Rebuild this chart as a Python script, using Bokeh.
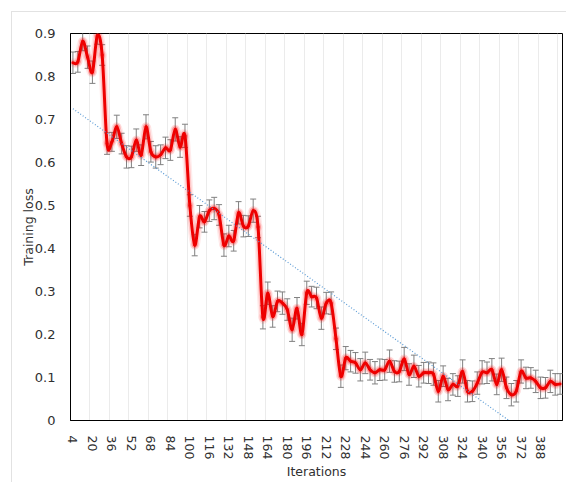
import numpy as np
from bokeh.plotting import figure
from bokeh.models import Range1d, FixedTicker, Whisker, ColumnDataSource, TeeHead
from bokeh.embed import file_html
from bokeh.resources import INLINE

# ---- data -------------------------------------------------------------
iterations = list(range(4, 408, 4))  # 4 .. 404

loss = [
    0.832, 0.834, 0.882, 0.845, 0.810, 0.895, 0.850, 0.644, 0.648, 0.683,
    0.644, 0.613, 0.613, 0.652, 0.617, 0.683, 0.625, 0.613, 0.618, 0.634,
    0.629, 0.677, 0.636, 0.662, 0.500, 0.408, 0.474, 0.462, 0.488, 0.493,
    0.478, 0.408, 0.429, 0.418, 0.483, 0.452, 0.452, 0.488, 0.450, 0.240,
    0.296, 0.242, 0.277, 0.273, 0.258, 0.211, 0.261, 0.200, 0.297, 0.288,
    0.285, 0.238, 0.273, 0.273, 0.190, 0.103, 0.145, 0.138, 0.134, 0.118,
    0.134, 0.118, 0.111, 0.118, 0.118, 0.138, 0.114, 0.114, 0.143, 0.107,
    0.126, 0.103, 0.111, 0.111, 0.108, 0.068, 0.103, 0.072, 0.084, 0.080,
    0.114, 0.068, 0.068, 0.087, 0.112, 0.111, 0.118, 0.084, 0.118, 0.076,
    0.060, 0.068, 0.114, 0.099, 0.099, 0.091, 0.076, 0.076, 0.091, 0.084,
    0.085,
]

err = [
    0.025, 0.024, 0.022, 0.026, 0.026, 0.020, 0.024, 0.025, 0.022, 0.027,
    0.024, 0.026, 0.025, 0.026, 0.024, 0.028, 0.024, 0.026, 0.023, 0.025,
    0.024, 0.027, 0.024, 0.027, 0.025, 0.025, 0.026, 0.024, 0.025, 0.026,
    0.024, 0.026, 0.025, 0.024, 0.026, 0.025, 0.024, 0.027, 0.025, 0.027,
    0.026, 0.025, 0.024, 0.026, 0.025, 0.027, 0.025, 0.026, 0.027, 0.024,
    0.025, 0.026, 0.025, 0.026, 0.025, 0.026, 0.027, 0.025, 0.024, 0.026,
    0.025, 0.024, 0.026, 0.025, 0.024, 0.026, 0.025, 0.024, 0.027, 0.025,
    0.026, 0.025, 0.024, 0.025, 0.026, 0.025, 0.024, 0.026, 0.025, 0.024,
    0.027, 0.025, 0.024, 0.026, 0.027, 0.025, 0.026, 0.024, 0.027, 0.025,
    0.026, 0.025, 0.027, 0.025, 0.024, 0.026, 0.025, 0.024, 0.026, 0.025,
    0.024,
]

trend_x = [4, 404]
trend_y = [0.725, -0.085]

x_ticks = list(range(4, 392, 16))          # 4, 20, ..., 388
y_ticks = [0, 0.1, 0.2, 0.3, 0.4, 0.5, 0.6, 0.7, 0.8, 0.9]
y_labels = ["0", "0.1", "0.2", "0.3", "0.4", "0.5", "0.6", "0.7", "0.8", "0.9"]

# ---- figure -----------------------------------------------------------
FONT = "DejaVu Sans"
p = figure(width=566, height=482, output_backend="svg", toolbar_location=None,
           x_range=Range1d(2, 406), y_range=Range1d(0, 0.9),
           min_border_left=70, min_border_right=4, min_border_top=33,
           min_border_bottom=61)

# faint outer chart border (top and left), drawn behind a transparent border area
p.border_fill_alpha = 0
p.styles = {
    "background": ("linear-gradient(#e2e2e2,#e2e2e2) 11px 11px / 1px 100% no-repeat, "
                   "linear-gradient(#e2e2e2,#e2e2e2) 11px 11px / 100% 1px no-repeat, #ffffff"),
}

p.background_fill_color = "white"
p.outline_line_color = "black"
p.outline_line_width = 1

# grid: vertical only, at category boundaries
p.ygrid.visible = False
p.xgrid.ticker = FixedTicker(ticks=[t - 2 for t in x_ticks] + [x_ticks[-1] + 14])
p.xgrid.grid_line_color = "#ebebeb"
p.xgrid.grid_line_width = 1

# axes
p.xaxis.ticker = FixedTicker(ticks=x_ticks)
p.xaxis.major_label_orientation = "vertical"
p.yaxis.ticker = FixedTicker(ticks=y_ticks)
p.yaxis.major_label_overrides = {t: l for t, l in zip(y_ticks, y_labels)}
for ax in (p.xaxis, p.yaxis):
    ax.major_tick_line_color = None
    ax.minor_tick_line_color = None
    ax.axis_line_color = "black"
    ax.axis_line_width = 1
    ax.major_label_text_font = FONT
    ax.major_label_text_font_size = "12.5px"
    ax.major_label_text_color = "#303030"
    ax.major_label_standoff = 9
    ax.axis_label_text_font = FONT
    ax.axis_label_text_font_size = "12.5px"
    ax.axis_label_text_font_style = "normal"
    ax.axis_label_text_color = "#303030"
p.yaxis.major_label_text_font_size = "13px"
p.xaxis.axis_label = "Iterations"
p.yaxis.axis_label = "Training loss"
p.xaxis.axis_label_standoff = 2
p.yaxis.axis_label_standoff = -4

# smoothed line (Catmull-Rom -> cubic Bezier, like a spreadsheet "smoothed line")
x = np.array(iterations, dtype=float)
y = np.array(loss, dtype=float)
n = len(x)
idx = np.arange(n - 1)
i0 = np.clip(idx - 1, 0, n - 1)
i3 = np.clip(idx + 2, 0, n - 1)
bez = ColumnDataSource(dict(
    x0=x[idx], y0=y[idx], x1=x[idx + 1], y1=y[idx + 1],
    cx0=x[idx] + (x[idx + 1] - x[i0]) / 6.0, cy0=y[idx] + (y[idx + 1] - y[i0]) / 6.0,
    cx1=x[idx + 1] - (x[i3] - x[idx]) / 6.0, cy1=y[idx + 1] - (y[i3] - y[idx]) / 6.0,
))
kw = dict(x0="x0", y0="y0", x1="x1", y1="y1", cx0="cx0", cy0="cy0",
          cx1="cx1", cy1="cy1", source=bez, line_cap="round")
p.bezier(line_color="#ff0000", line_alpha=0.08, line_width=9, **kw)
p.bezier(line_color="#ff0000", line_alpha=0.15, line_width=6, **kw)
p.bezier(line_color="#ee0000", line_alpha=1.0, line_width=3, **kw)

# trend line
p.line(trend_x, trend_y, line_color="#5b9bd5", line_width=1.2, line_dash="1 2")

# error bars
src = ColumnDataSource(dict(x=iterations,
                            upper=[v + e for v, e in zip(loss, err)],
                            lower=[v - e for v, e in zip(loss, err)]))
wh = Whisker(base="x", upper="upper", lower="lower", source=src,
             line_color="#808080", line_width=1,
             upper_head=TeeHead(size=6, line_color="#808080", line_width=1),
             lower_head=TeeHead(size=6, line_color="#808080", line_width=1))
p.add_layout(wh)

with open("out.html", "w") as f:
    f.write(file_html(p, INLINE))
